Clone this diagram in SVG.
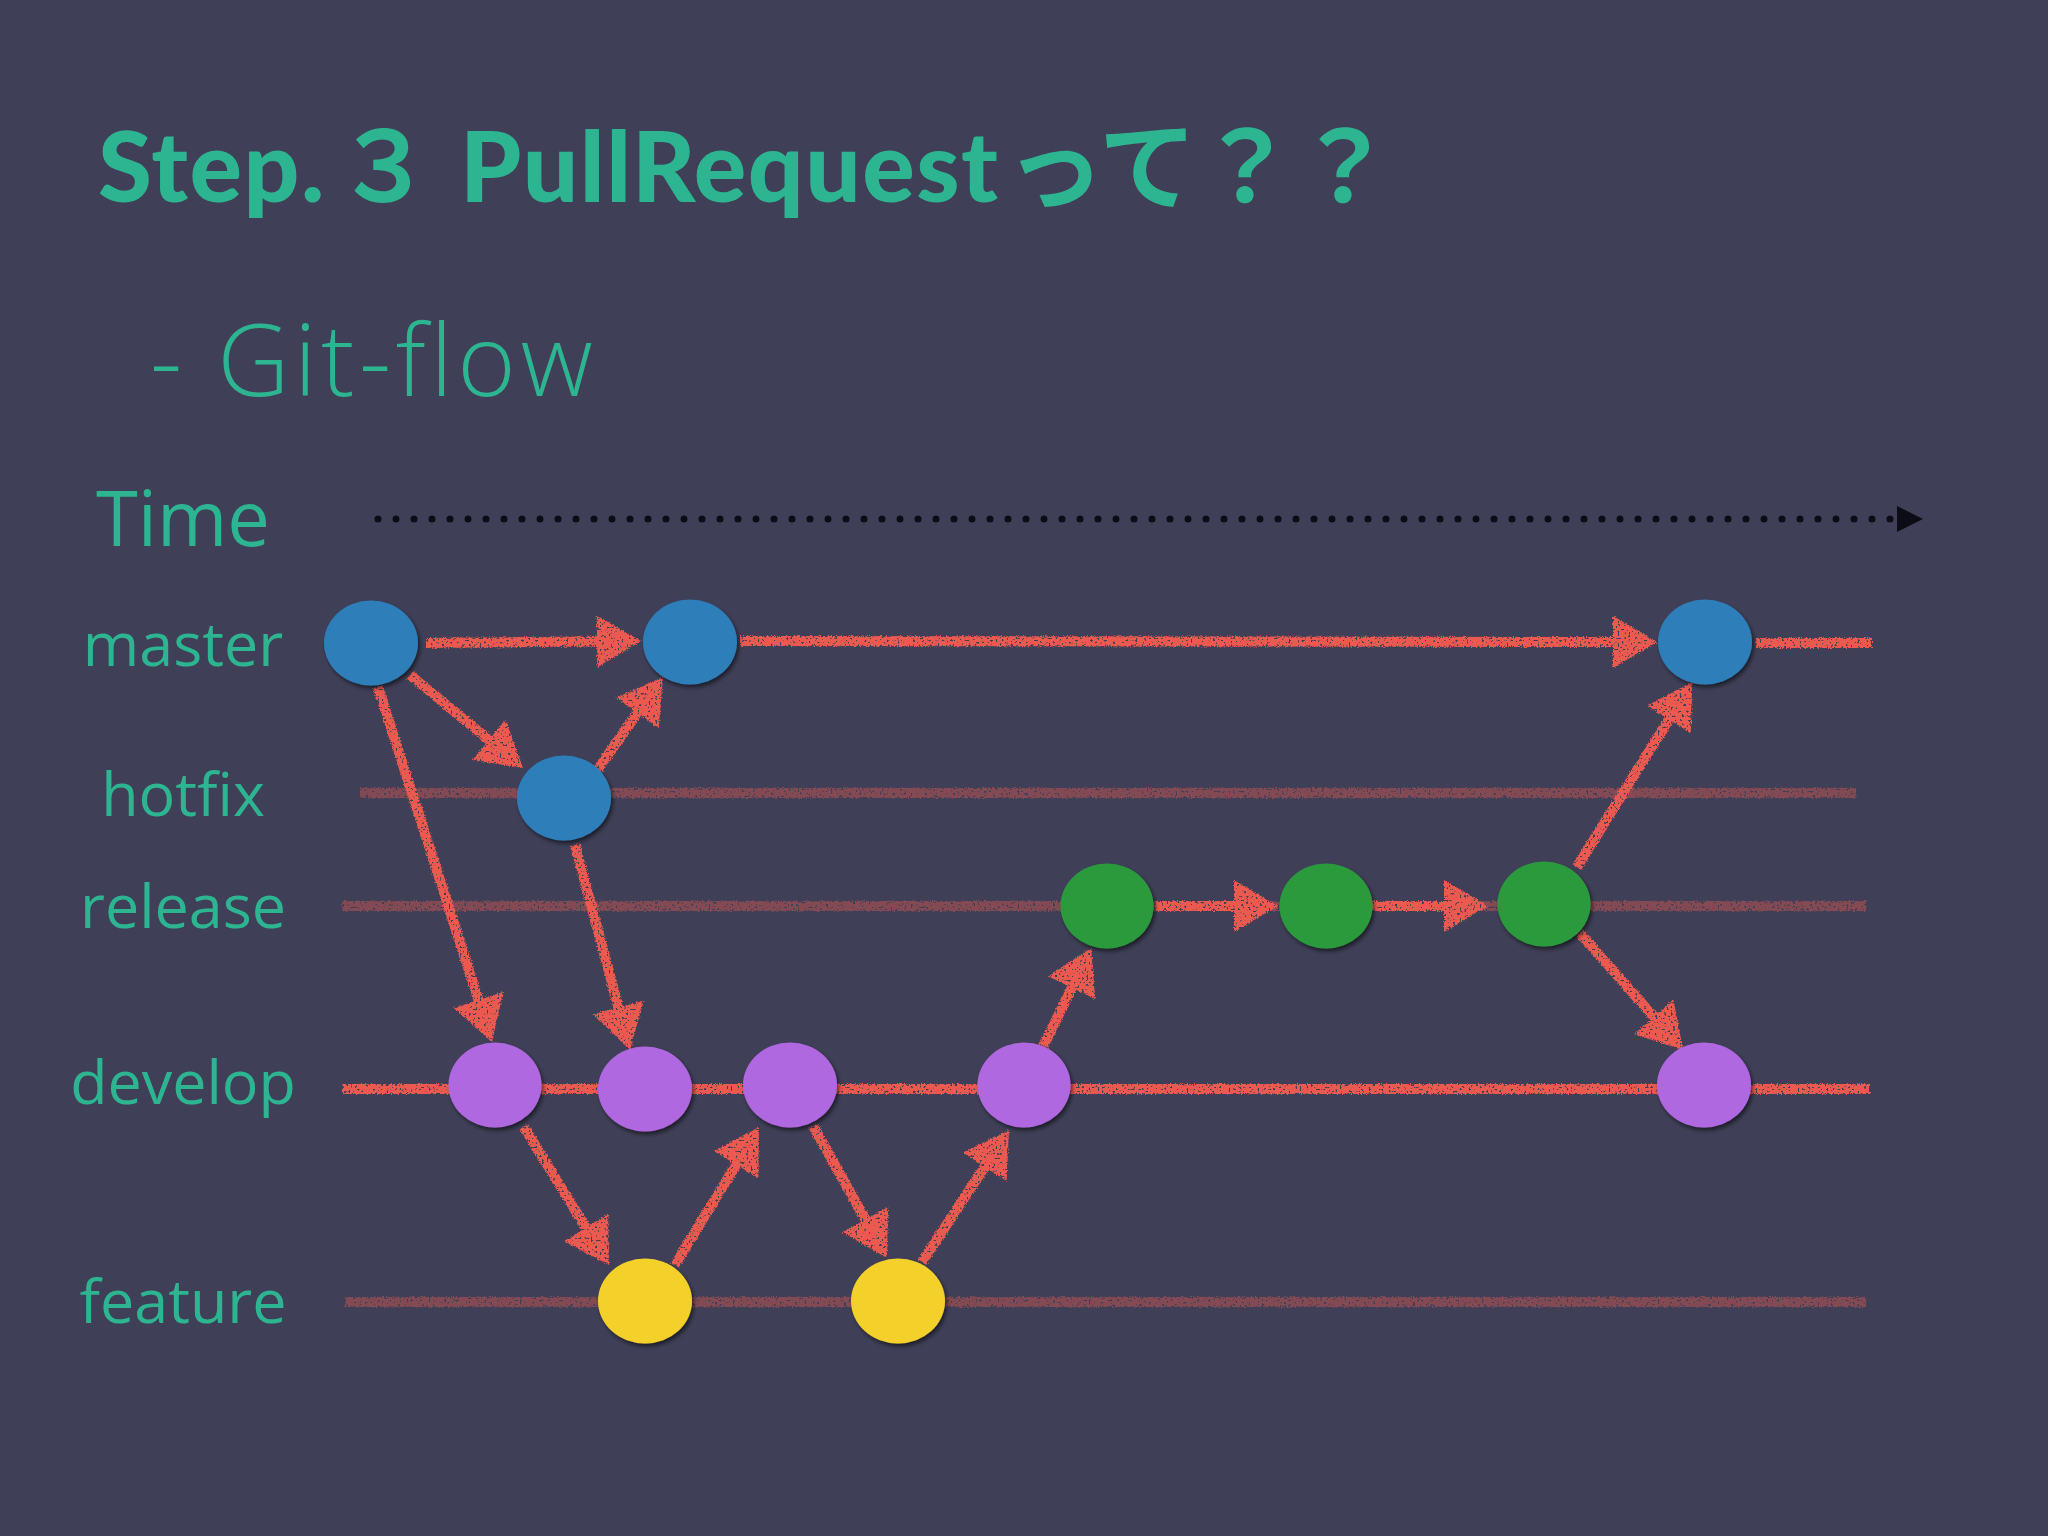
<svg xmlns="http://www.w3.org/2000/svg" width="2048" height="1536" viewBox="0 0 2048 1536">
<style>
.title{font-family:Lato,"Noto Sans CJK JP",sans-serif;font-weight:900;font-size:98px;fill:#2db592;letter-spacing:1.5px}
.cjk{font-family:"Noto Sans CJK JP",sans-serif;font-weight:700;letter-spacing:0}
.sub{font-family:"Open Sans","Noto Sans",sans-serif;font-weight:300;font-size:100px;fill:#2db592;letter-spacing:4.5px}
.lbl{font-family:"Open Sans","Noto Sans",sans-serif;font-weight:400;font-size:61px;fill:#2db592;text-anchor:middle}
.time{font-size:76px}
.dim{stroke:#ec5a4f;stroke-opacity:0.4;stroke-width:10;fill:none}
.red{stroke:#ec5a4f;stroke-width:10;fill:none;marker-end:url(#ah)}
.plain{stroke:#ec5a4f;stroke-width:10;fill:none}
.blue{fill:#2d7eb9}
.green{fill:#2c9a3d}
.purple{fill:#b068e0}
.yellow{fill:#f4d12a}
</style>
<defs>
<marker id="ah" markerUnits="userSpaceOnUse" markerWidth="46" markerHeight="54" refX="14" refY="26" orient="auto" overflow="visible">
<path d="M0,0 L44,26 L0,52 Z" fill="#ec5a4f"/>
</marker>
<filter id="chalk" filterUnits="userSpaceOnUse" x="0" y="0" width="2048" height="1536">
<feTurbulence type="fractalNoise" baseFrequency="0.8" numOctaves="2" seed="3" result="n"/>
<feDisplacementMap in="SourceGraphic" in2="n" scale="4" xChannelSelector="R" yChannelSelector="G" result="d"/>
<feTurbulence type="fractalNoise" baseFrequency="0.45" numOctaves="1" seed="7" result="n2"/>
<feColorMatrix in="n2" type="matrix" values="0 0 0 0 0  0 0 0 0 0  0 0 0 0 0  0 0 0 14 -8.6" result="holes"/>
<feComposite in="d" in2="holes" operator="out"/>
</filter>
<filter id="sh" x="-20%" y="-20%" width="140%" height="140%">
<feDropShadow dx="2" dy="3" stdDeviation="2" flood-color="#000" flood-opacity="0.55"/>
</filter>
</defs>
<rect width="2048" height="1536" fill="#3f4058"/>

<g id="title">
<text class="title" y="202"><tspan x="98">Step.</tspan><tspan class="cjk" x="335">３</tspan><tspan x="460">PullRequest</tspan><tspan class="cjk" x="1006">って？？</tspan></text>
<text class="sub" x="150" y="396">- Git-flow</text>
</g>

<g id="time-axis">
<text class="lbl time" x="183" y="546">Time</text>
<line x1="378" y1="519" x2="1892" y2="519" stroke="#0c0c16" stroke-width="7" stroke-linecap="round" stroke-dasharray="0 18"/>
<path d="M1897,506 L1923,519 L1897,532 Z" fill="#0c0c16"/>
</g>

<g id="labels">
<text class="lbl" x="183" y="666">master</text>
<text class="lbl" x="183" y="816">hotfix</text>
<text class="lbl" x="183" y="928">release</text>
<text class="lbl" x="183" y="1104">develop</text>
<text class="lbl" x="183" y="1323">feature</text>
</g>

<g id="connectors" filter="url(#chalk)">
<line class="dim" x1="360" y1="793" x2="1856" y2="793"/>
<line class="dim" x1="342" y1="906" x2="1866" y2="906"/>
<line class="dim" x1="345" y1="1302" x2="1866" y2="1302"/>
<line class="plain" x1="343" y1="1089" x2="1870" y2="1089"/>
<line class="plain" x1="1756" y1="643" x2="1872" y2="643"/>
<line class="red" x1="426" y1="643" x2="611" y2="641.3"/>
<line class="red" x1="740" y1="641" x2="1627" y2="642"/>
<line class="red" x1="410" y1="675" x2="499.8" y2="748.9"/>
<line class="red" x1="597" y1="770" x2="645.6" y2="701.5"/>
<line class="red" x1="378" y1="687" x2="482.8" y2="1013.4"/>
<line class="red" x1="575" y1="845" x2="622.2" y2="1021"/>
<line class="red" x1="524" y1="1127" x2="593.3" y2="1239.5"/>
<line class="red" x1="675" y1="1265" x2="743.4" y2="1152.6"/>
<line class="red" x1="813" y1="1126" x2="872.3" y2="1231.8"/>
<line class="red" x1="922" y1="1262" x2="992.5" y2="1155"/>
<line class="red" x1="1043" y1="1047" x2="1077.9" y2="975"/>
<line class="red" x1="1156" y1="906" x2="1248" y2="906"/>
<line class="red" x1="1367" y1="906" x2="1458" y2="906"/>
<line class="red" x1="1580" y1="933" x2="1663.2" y2="1027.5"/>
<line class="red" x1="1577" y1="867" x2="1676.2" y2="707.5"/>
</g>

<g id="nodes" filter="url(#sh)">
<g id="master1"><ellipse class="blue" cx="371" cy="643" rx="47" ry="42.5"/></g>
<g id="master2"><ellipse class="blue" cx="690" cy="642" rx="47" ry="42.5"/></g>
<g id="master3"><ellipse class="blue" cx="1705" cy="642" rx="47" ry="42.5"/></g>
<g id="hotfix1"><ellipse class="blue" cx="564" cy="798" rx="47" ry="42.5"/></g>
<g id="release1"><ellipse class="green" cx="1107" cy="906" rx="46.5" ry="42.5"/></g>
<g id="release2"><ellipse class="green" cx="1326" cy="906" rx="46.5" ry="42.5"/></g>
<g id="release3"><ellipse class="green" cx="1544" cy="904" rx="46.5" ry="42.5"/></g>
<g id="develop1"><ellipse class="purple" cx="495" cy="1085" rx="46.5" ry="42.5"/></g>
<g id="develop2"><ellipse class="purple" cx="645" cy="1089" rx="47" ry="42.5"/></g>
<g id="develop3"><ellipse class="purple" cx="790" cy="1085" rx="47" ry="42.5"/></g>
<g id="develop4"><ellipse class="purple" cx="1024" cy="1085" rx="46.5" ry="42.5"/></g>
<g id="develop5"><ellipse class="purple" cx="1704" cy="1085" rx="47" ry="42.5"/></g>
<g id="feature1"><ellipse class="yellow" cx="645" cy="1301" rx="47" ry="42.5"/></g>
<g id="feature2"><ellipse class="yellow" cx="898" cy="1301" rx="47" ry="42.5"/></g>
</g>
</svg>
